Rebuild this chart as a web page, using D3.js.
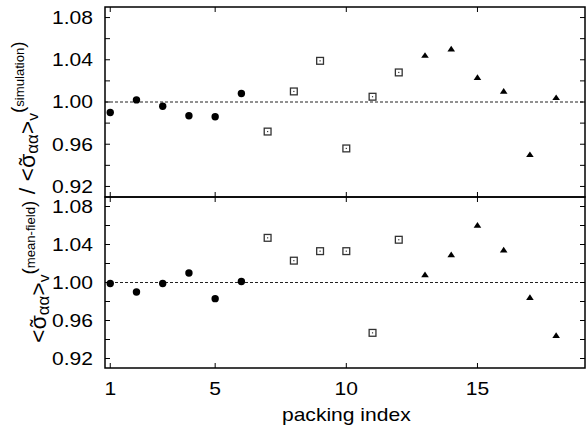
<!DOCTYPE html>
<html>
<head>
<meta charset="utf-8">
<script src="https://cdn.jsdelivr.net/npm/d3@7"></script>
<style>
  body { margin: 0; background: #fff; }
  svg { display: block; font-family: "Liberation Sans", Arial, sans-serif; }
</style>
</head>
<body>
<div id="chart"></div>
<script>
// packing index for each marker group
var circleIdx = [1, 2, 3, 4, 5, 6],
    squareIdx = [7, 8, 9, 10, 11, 12],
    triangleIdx = [13, 14, 15, 16, 17, 18];

// top panel (ratio values)
var topCircle = [0.990, 1.002, 0.996, 0.987, 0.986, 1.008],
    topSquare = [0.972, 1.010, 1.039, 0.956, 1.005, 1.028],
    topTriangle = [1.044, 1.050, 1.023, 1.010, 0.950, 1.004];

// bottom panel
var botCircle = [0.999, 0.990, 0.999, 1.010, 0.983, 1.001],
    botSquare = [1.047, 1.023, 1.033, 1.033, 0.947, 1.045],
    botTriangle = [1.008, 1.029, 1.060, 1.034, 0.984, 0.944];

var xTicks = [1, 5, 10, 15],
    yTicks = [0.92, 0.96, 1.00, 1.04, 1.08],
    yMinor = [0.94, 0.98, 1.02, 1.06];

var width = 586, height = 436,
    left = 105, right = 585,
    wide = 1.17; // the original font is wider than Liberation Sans

var svg = d3.select("#chart").append("svg")
    .attr("width", width)
    .attr("height", height);

var x = d3.scaleLinear().domain([0.8, 19.1]).range([left, right]);

function pack(idx, vals) {
    return idx.map(function (d, i) { return [d, vals[i]]; });
}

var panels = [
    { top: 7, bottom: 197, circles: pack(circleIdx, topCircle), squares: pack(squareIdx, topSquare), tris: pack(triangleIdx, topTriangle) },
    { top: 197, bottom: 368, circles: pack(circleIdx, botCircle), squares: pack(squareIdx, botSquare), tris: pack(triangleIdx, botTriangle) }
];

panels.forEach(function (p) {
    var y = d3.scaleLinear().domain([0.91, 1.09]).range([p.bottom, p.top]);
    var g = svg.append("g");

    // dashed reference line
    g.append("line")
        .attr("x1", left).attr("x2", right)
        .attr("y1", y(1)).attr("y2", y(1))
        .attr("stroke", "#222")
        .attr("stroke-width", 1)
        .attr("stroke-dasharray", "3,2");

    // inward ticks
    var tickLen = 5;
    var allY = yTicks.concat(yMinor);
    g.selectAll(".yl").data(allY).join("line")
        .attr("x1", left).attr("x2", left + tickLen)
        .attr("y1", function (d) { return y(d); }).attr("y2", function (d) { return y(d); })
        .attr("stroke", "#000");
    g.selectAll(".yr").data(allY).join("line")
        .attr("x1", right - tickLen).attr("x2", right)
        .attr("y1", function (d) { return y(d); }).attr("y2", function (d) { return y(d); })
        .attr("stroke", "#000");
    g.selectAll(".xt").data(xTicks).join("line")
        .attr("x1", function (d) { return x(d); }).attr("x2", function (d) { return x(d); })
        .attr("y1", p.top).attr("y2", p.top + tickLen)
        .attr("stroke", "#000");
    g.selectAll(".xb").data(xTicks).join("line")
        .attr("x1", function (d) { return x(d); }).attr("x2", function (d) { return x(d); })
        .attr("y1", p.bottom - tickLen).attr("y2", p.bottom)
        .attr("stroke", "#000");

    // y tick labels
    g.selectAll(".ylab").data(yTicks).join("text")
        .attr("transform", function (d) { return "translate(93," + y(d) + ") scale(" + wide + ",1)"; })
        .attr("dy", "0.36em")
        .attr("text-anchor", "end")
        .attr("font-size", 18)
        .text(function (d) { return d.toFixed(2); });

    // frame
    g.append("rect")
        .attr("x", left).attr("y", p.top)
        .attr("width", right - left).attr("height", p.bottom - p.top)
        .attr("fill", "none")
        .attr("stroke", "#000")
        .attr("stroke-width", 1.5);

    // circles
    g.selectAll(".c").data(p.circles).join("circle")
        .attr("cx", function (d) { return x(d[0]); })
        .attr("cy", function (d) { return y(d[1]); })
        .attr("r", 3.7)
        .attr("fill", "#000");

    // open squares with centre dot
    var sq = g.selectAll(".s").data(p.squares).join("g")
        .attr("transform", function (d) { return "translate(" + x(d[0]) + "," + y(d[1]) + ")"; });
    sq.append("rect")
        .attr("x", -3.4).attr("y", -3.4)
        .attr("width", 6.8).attr("height", 6.8)
        .attr("fill", "#fff")
        .attr("stroke", "#333")
        .attr("stroke-width", 1.3);
    sq.append("rect")
        .attr("x", -0.6).attr("y", -0.6)
        .attr("width", 1.2).attr("height", 1.2)
        .attr("fill", "#333");

    // filled triangles
    g.selectAll(".t").data(p.tris).join("path")
        .attr("d", "M0,-3.4L3.8,2.3L-3.8,2.3Z")
        .attr("transform", function (d) { return "translate(" + x(d[0]) + "," + y(d[1]) + ")"; })
        .attr("fill", "#000");
});

// x tick labels
svg.selectAll(".xlab").data(xTicks).join("text")
    .attr("transform", function (d) { return "translate(" + x(d) + ",395) scale(" + wide + ",1)"; })
    .attr("text-anchor", "middle")
    .attr("font-size", 18)
    .text(function (d) { return d; });

svg.append("text")
    .attr("transform", "translate(" + x(10) + ",421) scale(" + wide + ",1)")
    .attr("text-anchor", "middle")
    .attr("font-size", 18)
    .text("packing index");

// y axis label, built left to right then rotated
var yl = svg.append("text")
    .attr("font-size", 22);

function ratioPart(sel, which) {
    sel.append("tspan").text("<");
    var sig = sel.append("tspan").text("σ");
    var til = sel.append("tspan").attr("font-size", 20).text("\u02DC");
    var ws = sig.node().getComputedTextLength(),
        wt = til.node().getComputedTextLength();
    til.attr("dx", -(ws + wt) / 2 - 0.5).attr("dy", -1);
    sel.append("tspan").attr("font-size", 16).attr("dx", (ws - wt) / 2 + 0.5).attr("dy", 4).text("αα");
    sel.append("tspan").attr("dy", -3).text(">");
    sel.append("tspan").attr("font-size", 15).attr("dy", 3).text("v");
    sel.append("tspan").attr("font-size", 18).attr("dy", -14).text("(");
    sel.append("tspan").attr("font-size", 12.5).text(which);
    sel.append("tspan").attr("font-size", 18).text(")");
    sel.append("tspan").attr("dy", 11).text("");
}
ratioPart(yl, "mean-field");
yl.append("tspan").text(" / ");
ratioPart(yl, "simulation");

// fit the label between y = 27 and y = 343
var L = yl.node().getComputedTextLength(),
    sx = 316 / L;
yl.attr("transform", "translate(46,343) rotate(-90) scale(" + sx + ",1)");
</script>
</body>
</html>
